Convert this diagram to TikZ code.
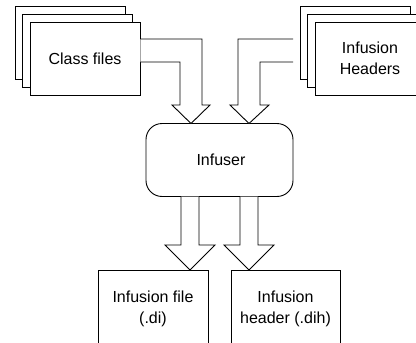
\documentclass[tikz,border=0pt]{standalone}
\usepackage{fontspec}
\setmainfont{Liberation Sans}
\begin{document}
\begin{tikzpicture}[x=1pt,y=-1pt,
  doc/.style={draw=black, fill=white, line width=0.9pt, minimum width=110pt,
    minimum height=73pt, inner sep=0pt},
  proc/.style={doc, minimum width=147pt, rounded corners=16pt},
  blockarrow/.style={draw=black, fill=white, line width=0.9pt, line join=miter},
  lbl/.style={align=center, inner sep=0pt, font=\fontsize{16}{21.5}\selectfont}]
\useasboundingbox (0,0) rectangle (416,343);
\clip (0,0) rectangle (416,343);

% stacked input documents: class files
\node[doc] (cfA) at (70,43) {};
\node[doc] (cfB) at (77.5,50.5) {};
\node[doc] (cfC) at (85,58.5) {};
\node[lbl] (cfT) at (cfC) {Class files};

% stacked input documents: infusion headers
\node[doc] (hdA) at (355,43) {};
\node[doc] (hdB) at (362.5,50.5) {};
\node[doc] (hdC) at (370,58.5) {};
\node[lbl] (hdT) at (hdC) {Infusion\\Headers};

% the tool
\node[proc] (inf) at (219.5,160) {};
\node[lbl] (infT) at (221,160) {Infuser};

% outputs
\node[doc, minimum height=100pt] (outA) at (153,320) {};
\node[doc, minimum width=109pt, minimum height=100pt] (outB) at (285.5,320) {};
\node[lbl] (outAT) at (153,309) {Infusion file\\(.di)};
\node[lbl] (outBT) at (285.5,309) {Infusion\\header (.dih)};

% block arrows into the infuser
\draw[blockarrow] (cfC.east |- 0,39) -- (202,39) -- (202,105) -- (210,105)
  -- (191,123.5) -- (172,105) -- (180,105) -- (180,62) -- (cfC.east |- 0,62);
\draw[blockarrow] (293,39) -- (238,39) -- (238,105) -- (230,105)
  -- (249,123.5) -- (269,105) -- (260,105) -- (260,62) -- (293,62);

% block arrows out of the infuser
\draw[blockarrow] (181,196.5) -- (181,245) -- (165,245) -- (190,270)
  -- (215,245) -- (199,245) -- (199,196.5);
\draw[blockarrow] (240,196.5) -- (240,245) -- (224,245) -- (249,270)
  -- (274,245) -- (258,245) -- (258,196.5);
\end{tikzpicture}
\end{document}
